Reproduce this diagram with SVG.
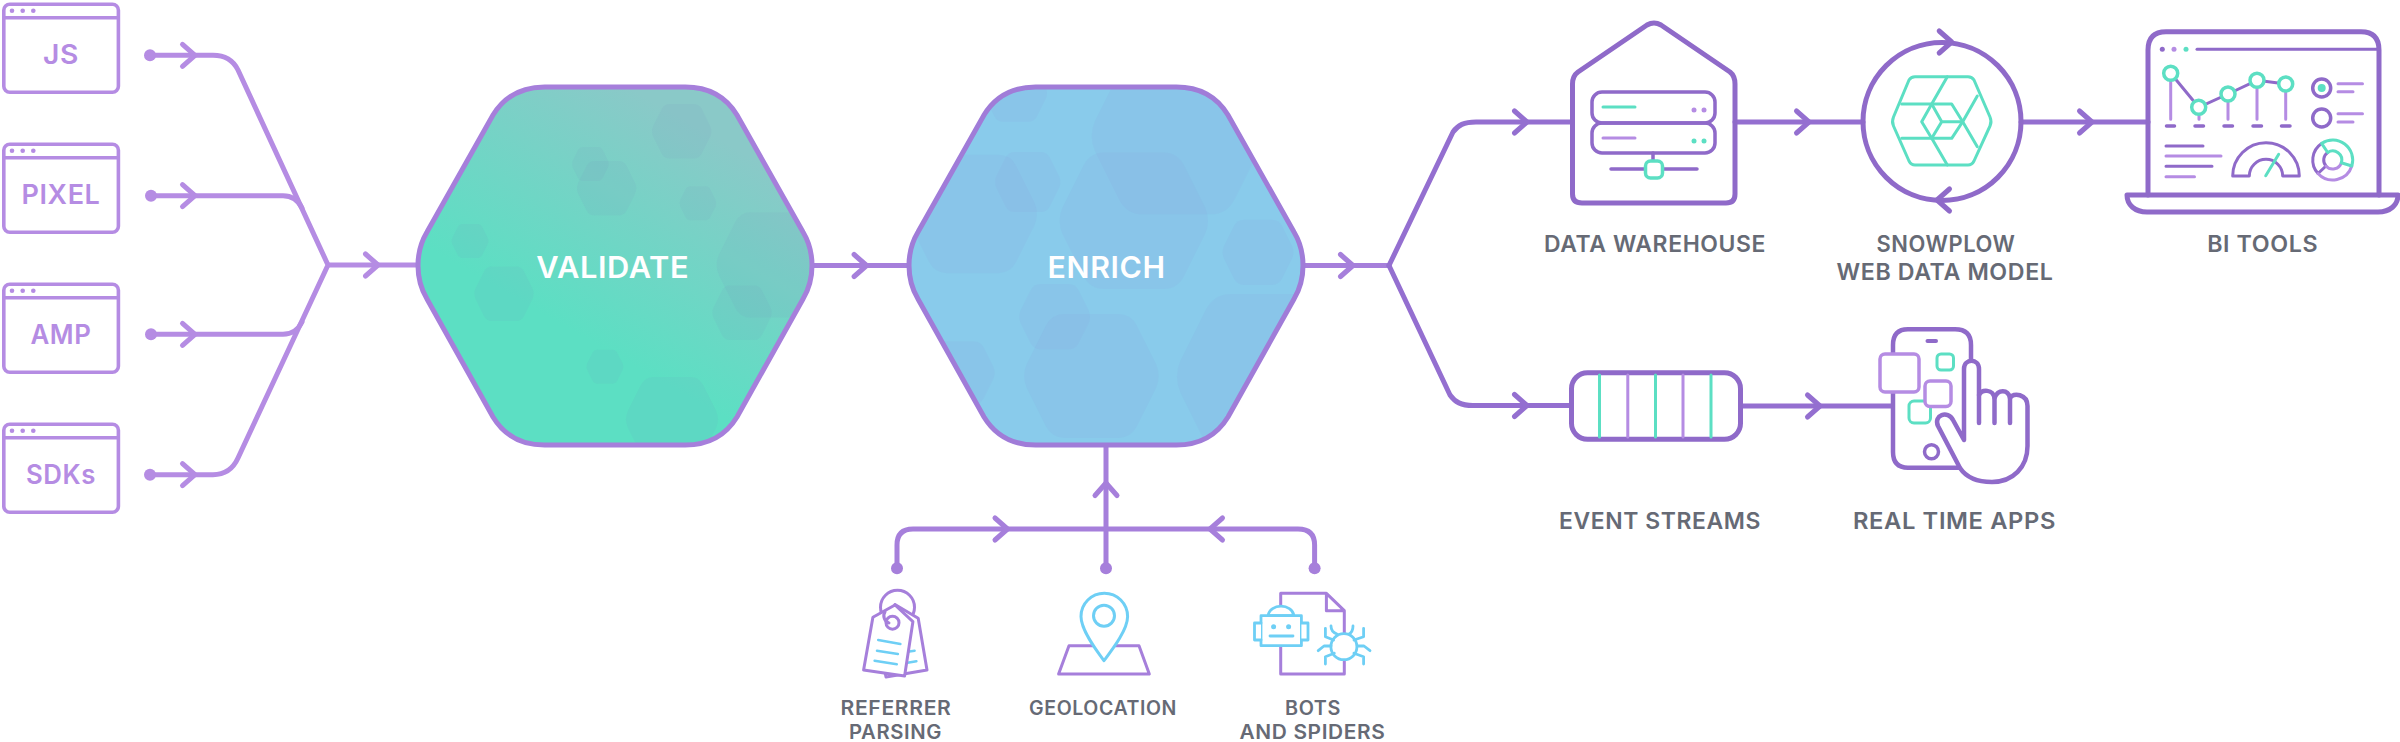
<svg xmlns="http://www.w3.org/2000/svg" xmlns:xlink="http://www.w3.org/1999/xlink" width="2400" height="742" viewBox="0 0 2400 742">
<style>
.l{fill:none;stroke-linecap:round;stroke-linejoin:round}
.c1{stroke:#b58ce3;stroke-width:5;fill:none;stroke-linecap:round;stroke-linejoin:round}
.c2{stroke:#a67fdb;stroke-width:5;fill:none;stroke-linecap:round;stroke-linejoin:round}
.c3{stroke:#946fd0;stroke-width:5;fill:none;stroke-linecap:round;stroke-linejoin:round}
.d{stroke:#8f6ac9}.m{stroke:#b58ce3}.g{stroke:#5cdfc3}.b{stroke:#6ecff5}.p{stroke:#a67fdb}
.t{font-family:"Inter","Liberation Sans",sans-serif;font-weight:600;text-anchor:middle;letter-spacing:.6px}
.w{font-size:26.5px;fill:#b58ce3}
.h{font-size:30px;fill:#fff}
.lab{font-size:23px;fill:#666a75}
.sm{font-size:19.5px;fill:#666a75}
.hx1{fill:#7b7fc9;fill-opacity:.065}
.hx2{fill:#8a82d0;fill-opacity:.07}
</style>
<defs>
<linearGradient id="gv" gradientUnits="userSpaceOnUse" x1="550" y1="410" x2="730" y2="95">
<stop offset=".22" stop-color="#5cdfc3"/><stop offset=".88" stop-color="#8ac9c8"/>
</linearGradient>
<path id="hexo" d="M544.6 87C522 87 504 97 493 115L427 232C415 252 415 279 427 299L493 417C504 435 522 445 544.6 445H685.4C708 445 726 435 737 417L803 299C815 279 815 252 803 232L737 115C726 97 708 87 685.4 87Z"/>
<clipPath id="cv"><use href="#hexo"/></clipPath>
<clipPath id="ce"><use href="#hexo" x="491"/></clipPath>
<path id="hx" d="M-.4-.91H.4Q.58-.91.67-.74L.95-.18Q1.03 0 .95.18L.67.74Q.58.91.4.91H-.4Q-.58.91-.67.74L-.95.18Q-1.03 0-.95-.18L-.67-.74Q-.58-.91-.4-.91Z"/>
<path id="ch" d="M-12.5-11L0 0L-12.5 11"/>
<g id="win" fill="none" stroke="#b58ce3" stroke-width="3.6">
<rect x="3.8" y="4.3" width="114.6" height="88" rx="6"/><path d="M3.8 17.7H118.4"/>
<g fill="#b58ce3" stroke="none"><circle cx="12" cy="10.7" r="2.3"/><circle cx="22.7" cy="10.7" r="2.3"/><circle cx="33.3" cy="10.7" r="2.3"/></g>
</g>
</defs>

<g id="connectors">
<g class="c1">
<path d="M150 55.3H213C225 55.3 233 60 238 70L328 265L238 458C233 469 225 474.7 213 474.7H150"/>
<path d="M151 195.7H283C292 195.7 298 200 302 208"/>
<path d="M151 334.3H283C292 334.3 298 330 302 322"/>
<path d="M329 265H418"/>
<use href="#ch" x="195" y="55.3"/><use href="#ch" x="195" y="195.7"/><use href="#ch" x="195" y="334.3"/><use href="#ch" x="195" y="474.7"/><use href="#ch" x="378" y="265"/>
<g fill="#b58ce3" stroke="none"><circle cx="150" cy="55.3" r="6"/><circle cx="151" cy="195.7" r="6"/><circle cx="151" cy="334.3" r="6"/><circle cx="150" cy="474.7" r="6"/></g>
</g>
<g class="c2">
<path d="M812 265.5H909"/><use href="#ch" x="866.6" y="265.5"/>
<path d="M1303 265.5H1389"/><use href="#ch" x="1353" y="265.5"/>
<path d="M1106 446V568M897 568V545Q897 529 913 529H1298Q1314.6 529 1314.6 545V568"/>
<use href="#ch" x="1007.5" y="529"/><use href="#ch" transform="translate(1210 529) rotate(180)"/><use href="#ch" transform="translate(1106 483) rotate(-90)"/>
<g fill="#a67fdb" stroke="none"><circle cx="897" cy="568.3" r="6"/><circle cx="1106" cy="568.3" r="6"/><circle cx="1314.6" cy="568.3" r="6"/></g>
</g>
<g class="c3">
<path d="M1389 265.5L1453 132C1458 125 1464 122 1476 122H1572"/>
<path d="M1389 265.5L1450 395C1455 402 1461 405.5 1473 405.5H1571"/>
<use href="#ch" x="1527" y="122"/><use href="#ch" x="1527" y="405.5"/>
<path d="M1735 122H1863"/><use href="#ch" x="1809" y="122"/>
<path d="M2021 122H2148"/><use href="#ch" x="2092" y="122"/>
<path d="M1740 406H1891"/><use href="#ch" x="1820" y="406"/>
</g>
</g>

<g id="source-js"><use href="#win"/><text class="t w" x="61" y="64" textLength="36" lengthAdjust="spacingAndGlyphs">JS</text></g>
<g id="source-pixel"><use href="#win" y="140"/><text class="t w" x="61" y="204" textLength="79" lengthAdjust="spacingAndGlyphs">PIXEL</text></g>
<g id="source-amp"><use href="#win" y="280"/><text class="t w" x="61" y="344" textLength="61" lengthAdjust="spacingAndGlyphs">AMP</text></g>
<g id="source-sdks"><use href="#win" y="420"/><text class="t w" x="61" y="484" textLength="70" lengthAdjust="spacingAndGlyphs">SDKs</text></g>

<g id="validate">
<use href="#hexo" fill="url(#gv)"/>
<g clip-path="url(#cv)" class="hx1">
<use href="#hx" transform="translate(681.7 131.3) scale(30)"/>
<use href="#hx" transform="translate(590.4 164) scale(18.6)"/>
<use href="#hx" transform="translate(606.6 188.3) scale(30)"/>
<use href="#hx" transform="translate(697.9 203.3) scale(18.6)"/>
<use href="#hx" transform="translate(470 241) scale(18.6)"/>
<use href="#hx" transform="translate(504 293.7) scale(30)"/>
<use href="#hx" transform="translate(774 265) scale(58)"/>
<use href="#hx" transform="translate(742 312.7) scale(30)"/>
<use href="#hx" transform="translate(604.9 366.7) scale(18.6)"/>
<use href="#hx" transform="translate(672 419.3) scale(46.5)"/>
</g>
<use href="#hexo" fill="none" stroke="#a67fdb" stroke-width="5"/>
<text class="t h" x="612.7" y="278" textLength="153" lengthAdjust="spacingAndGlyphs">VALIDATE</text>
</g>

<g id="enrich">
<use href="#hexo" x="491" fill="#89cbeb"/>
<g clip-path="url(#ce)" class="hx2">
<use href="#hx" transform="translate(1015.7 93) scale(31.7)"/>
<use href="#hx" transform="translate(1027.7 182) scale(33)"/>
<use href="#hx" transform="translate(972.6 214) scale(65)"/>
<use href="#hx" transform="translate(1133.8 220.7) scale(75)"/>
<use href="#hx" transform="translate(1176.8 136) scale(86)"/>
<use href="#hx" transform="translate(1258 252.3) scale(35.8)"/>
<use href="#hx" transform="translate(1054.6 316.7) scale(35.8)"/>
<use href="#hx" transform="translate(1091.4 376) scale(68)"/>
<use href="#hx" transform="translate(960.6 372.7) scale(34.4)"/>
<use href="#hx" transform="translate(1267 376.7) scale(91)"/>
</g>
<use href="#hexo" x="491" fill="none" stroke="#a07cd8" stroke-width="5"/>
<text class="t h" x="1106.6" y="278" textLength="118" lengthAdjust="spacingAndGlyphs">ENRICH</text>
</g>

<g id="data-warehouse">
<path class="l d" stroke-width="5" d="M1572.5 84Q1572.5 76 1578 72L1647 25Q1654 21 1661 25L1730 72Q1735 76 1735 84V194Q1735 203 1726 203H1582Q1572.5 203 1572.5 194Z"/>
<g class="l d" stroke-width="3.5">
<rect x="1592" y="92" width="123" height="31" rx="10"/><rect x="1592" y="123" width="123" height="30" rx="10"/>
<path d="M1653 153V161M1611 169H1697"/>
</g>
<path class="l g" stroke-width="3" d="M1603 107H1635"/>
<path class="l m" stroke-width="3" d="M1603 138H1635"/>
<g fill="#b58ce3"><circle cx="1694" cy="110" r="2.5"/><circle cx="1704" cy="110" r="2.5"/></g>
<g fill="#5cdfc3"><circle cx="1694" cy="141" r="2.5"/><circle cx="1704" cy="141" r="2.5"/></g>
<rect class="g" x="1645.5" y="161" width="17" height="17" rx="5" fill="#fff" stroke-width="3.5"/>
<text class="t lab" x="1655" y="251.5" textLength="222" lengthAdjust="spacingAndGlyphs">DATA WAREHOUSE</text>
</g>

<g id="snowplow-web-data-model">
<circle class="d" cx="1942" cy="121.5" r="79" fill="none" stroke-width="5"/>
<g class="l d" stroke-width="5"><use href="#ch" x="1951.7" y="42"/><use href="#ch" transform="translate(1937 200) rotate(180)"/></g>
<g class="l g" stroke-width="3">
<path d="M1915 76.7H1968Q1972 76.7 1974 80L1990 117Q1992 121.7 1990 126L1974 161Q1972 165 1968 165H1915Q1911 165 1909 161L1893.5 126Q1891.5 121.7 1893.5 117L1909 80Q1911 76.7 1915 76.7Z"/>
<path d="M1901.7 104H1951.7L1962.7 121.7L1951.7 138.3H1901.7"/>
<path d="M1947.3 76.7L1931.7 104L1921.7 121.7L1931.7 138.3L1947.3 165"/>
<path d="M1931.7 104L1941.7 121.7L1931.7 138.3M1941.7 121.7H1962.7M1977.3 96L1962.7 121.7L1977.3 146.7"/>
</g>
<text class="t lab" x="1946" y="251.5" textLength="139" lengthAdjust="spacingAndGlyphs">SNOWPLOW</text>
<text class="t lab" x="1945" y="279.5" textLength="217" lengthAdjust="spacingAndGlyphs">WEB DATA MODEL</text>
</g>

<g id="bi-tools">
<path class="l d" stroke-width="5" d="M2148 195V50Q2148 31.7 2166 31.7H2361Q2379 31.7 2379 50V195"/>
<path class="l d" stroke-width="5" d="M2127 195H2398C2398 205 2390 212 2378 212H2147C2135 212 2127 205 2127 195Z"/>
<circle cx="2162.3" cy="49.3" r="2.5" fill="#8f6ac9"/><circle cx="2174" cy="49.3" r="2.5" fill="#b58ce3"/><circle cx="2186" cy="49.3" r="2.5" fill="#5cdfc3"/>
<path class="l d" stroke-width="3" d="M2197 49.3H2379"/>
<path class="l m" stroke-width="3" d="M2170.7 73V119.3M2199 107V119.3M2228 94V119.3M2257 80V119.3M2285.7 84V119.3"/>
<path class="l d" stroke-width="3" d="M2170.7 73.3L2198.7 107.3L2228 94L2257 80.3L2285.7 84"/>
<g fill="#fff" class="g" stroke-width="3.5"><circle cx="2170.7" cy="73.3" r="7"/><circle cx="2198.7" cy="107.3" r="7"/><circle cx="2228" cy="94" r="7"/><circle cx="2257" cy="80.3" r="7"/><circle cx="2285.7" cy="84" r="7"/></g>
<path class="l d" stroke-width="3.5" d="M2166.5 126H2174.5M2195 126H2203.5M2224 126H2232.5M2253 126H2261.5M2281.5 126H2290"/>
<circle class="d" cx="2321.7" cy="88" r="9" fill="none" stroke-width="3.5"/><circle cx="2321.7" cy="88" r="4" fill="#5cdfc3"/>
<circle class="d" cx="2321.7" cy="118" r="9" fill="none" stroke-width="3.5"/>
<path class="l m" stroke-width="3" d="M2338 83.7H2362.5M2338 91.7H2353M2338 113.7H2362.5M2338 122H2353"/>
<path class="l d" stroke-width="3" d="M2166 146H2203M2166 166.3H2212"/>
<path class="l m" stroke-width="3" d="M2166 156H2221M2166 176.7H2194.5"/>
<path class="l d" stroke-width="3" d="M2232.7 176A33.3 33.3 0 0 1 2299.3 176H2282.7A16.7 16.7 0 0 0 2249.3 176Z"/>
<path class="l g" stroke-width="3" d="M2265.7 175.7L2278.7 154.3"/>
<path class="l d" stroke-width="3" d="M2321.6 143.4A20 20 0 0 0 2318 173.5L2326 166A9 9 0 0 1 2327.7 152.5"/>
<path class="l m" stroke-width="3" d="M2318 173.5A20 20 0 0 0 2351.8 166M2326 166A9 9 0 0 0 2341.3 162.7"/>
<path class="l g" stroke-width="3" d="M2327.7 152.5L2321.6 143.4A20 20 0 0 1 2351.8 166L2341.3 162.7A9 9 0 0 0 2327.7 152.5Z"/>
<text class="t lab" x="2262.7" y="251.5" textLength="111" lengthAdjust="spacingAndGlyphs">BI TOOLS</text>
</g>

<g id="event-streams">
<rect class="d" x="1571.5" y="372.7" width="169" height="66.6" rx="16" fill="#fff" stroke-width="5"/>
<path class="l g" stroke-width="3" d="M1599.5 375V437M1655.5 375V437M1711 375V437"/>
<path class="l m" stroke-width="3" d="M1627.8 375V437M1683 375V437"/>
<text class="t lab" x="1660" y="529" textLength="202" lengthAdjust="spacingAndGlyphs">EVENT STREAMS</text>
</g>

<g id="real-time-apps">
<path class="l d" stroke-width="4.5" d="M1893 353V345Q1893 329.3 1908 329.3H1955Q1971 329.3 1971 345V362"/>
<path class="l d" stroke-width="4.5" d="M1893 392V452Q1893 467.7 1908 467.7H1960"/>
<path class="l d" stroke-width="4" d="M1927.5 341H1936"/>
<rect class="g" x="1937" y="354" width="16.5" height="16" rx="4" fill="none" stroke-width="3"/>
<rect class="g" x="1909" y="401" width="21.5" height="22" rx="5" fill="none" stroke-width="3"/>
<rect class="m" x="1880" y="354" width="39" height="38" rx="5" fill="#fff" stroke-width="3.5"/>
<rect class="m" x="1925" y="381" width="26" height="25.5" rx="5" fill="#fff" stroke-width="3.5"/>
<circle class="d" cx="1931.5" cy="451.7" r="7" fill="none" stroke-width="3.5"/>
<path class="d" fill="#fff" stroke-width="4.5" stroke-linecap="round" stroke-linejoin="round" d="M1964 440V369C1964 358 1979 358 1979 369V395C1982 389 1993 389 1994.5 398C1998 389 2008 389 2010 398C2013 392 2027.5 394 2027.5 406V446C2027.5 467 2013 482 1992 482C1977 482 1966 477 1960 468L1938 426C1933 415 1948 410 1953 420Z"/>
<path class="l d" stroke-width="4.5" d="M1979 395V423M1994.5 398V423M2010 398V423"/>
<text class="t lab" x="1954.5" y="529" textLength="203" lengthAdjust="spacingAndGlyphs">REAL TIME APPS</text>
</g>

<g id="referrer-parsing">
<circle class="p" cx="897.5" cy="607.3" r="17" fill="none" stroke-width="3"/>
<path class="l p" stroke-width="3" d="M895 604.5L918.2 618.3L927 670L886 677L880 650Z" style="fill:#fff"/>
<path class="l b" stroke-width="2.5" d="M907.5 651.7L914.6 650.7M907.5 662.7L916.4 661.3"/>
<path class="p" fill="#fff" stroke-width="3" stroke-linejoin="round" d="M895 605L912.9 621.7L904.6 676L863.6 670L872.9 617.3Z"/>
<circle class="p" cx="892.5" cy="622.7" r="6.5" fill="none" stroke-width="3"/>
<path class="l p" stroke-width="3" d="M885 612C882 616 885 622 889 623"/>
<path class="l b" stroke-width="2.5" d="M878.2 640L900.4 644M877 650.7L897.9 654M874.6 660.7L896.8 664.3"/>
<text class="t sm" x="896" y="715" textLength="111" lengthAdjust="spacingAndGlyphs">REFERRER</text>
<text class="t sm" x="895.5" y="739.3" textLength="93" lengthAdjust="spacingAndGlyphs">PARSING</text>
</g>

<g id="geolocation">
<path class="p" fill="none" stroke-width="3" stroke-linejoin="round" d="M1069 645.7H1139L1149.3 674H1058.6Z"/>
<path class="b" fill="#fff" stroke-width="3" stroke-linejoin="round" d="M1104 660.7C1096 650 1081 630 1081 616.5A23.3 23.3 0 0 1 1127.6 616.5C1127.6 630 1112 650 1104 660.7Z"/>
<circle class="b" cx="1104" cy="615.7" r="10.5" fill="none" stroke-width="3"/>
<text class="t sm" x="1103" y="715" textLength="148" lengthAdjust="spacingAndGlyphs">GEOLOCATION</text>
</g>

<g id="bots-and-spiders">
<path class="p" fill="none" stroke-width="3" stroke-linejoin="round" d="M1280.7 593.3H1326.4L1344.3 610.7V674H1280.7ZM1326.4 593.3V610.7H1344.3"/>
<g class="b" stroke-width="2.8" stroke-linejoin="round" stroke-linecap="round">
<path fill="#fff" d="M1268 615.7C1270 603 1292 603 1294 615.7Z"/>
<rect x="1261" y="615.7" width="40.4" height="30" fill="#fff"/>
<path fill="#fff" d="M1261 623H1254.5V640H1261M1301.4 623H1308V640H1301.4"/>
<path fill="none" d="M1270 636H1293"/>
<circle fill="#fff" cx="1343.9" cy="646.7" r="13"/>
<path fill="none" d="M1325.4 628.3V636.7L1333.6 640M1363.6 628.3V636.7L1354 640M1318.2 650.7L1324 646H1331M1370 650.7L1364 646H1357.5M1325.4 664V656.7L1334.3 653.3M1363.6 664V656.7L1353.9 653.3M1331 626C1331 631 1334 633 1337 634M1353 626C1353 631 1351 633 1349 634"/>
</g>
<circle cx="1273.6" cy="626.7" r="2.5" fill="#6ecff5"/><circle cx="1288.6" cy="626.7" r="2.5" fill="#6ecff5"/>
<text class="t sm" x="1313" y="715" textLength="56" lengthAdjust="spacingAndGlyphs">BOTS</text>
<text class="t sm" x="1312.5" y="739.3" textLength="146" lengthAdjust="spacingAndGlyphs">AND SPIDERS</text>
</g>
</svg>
